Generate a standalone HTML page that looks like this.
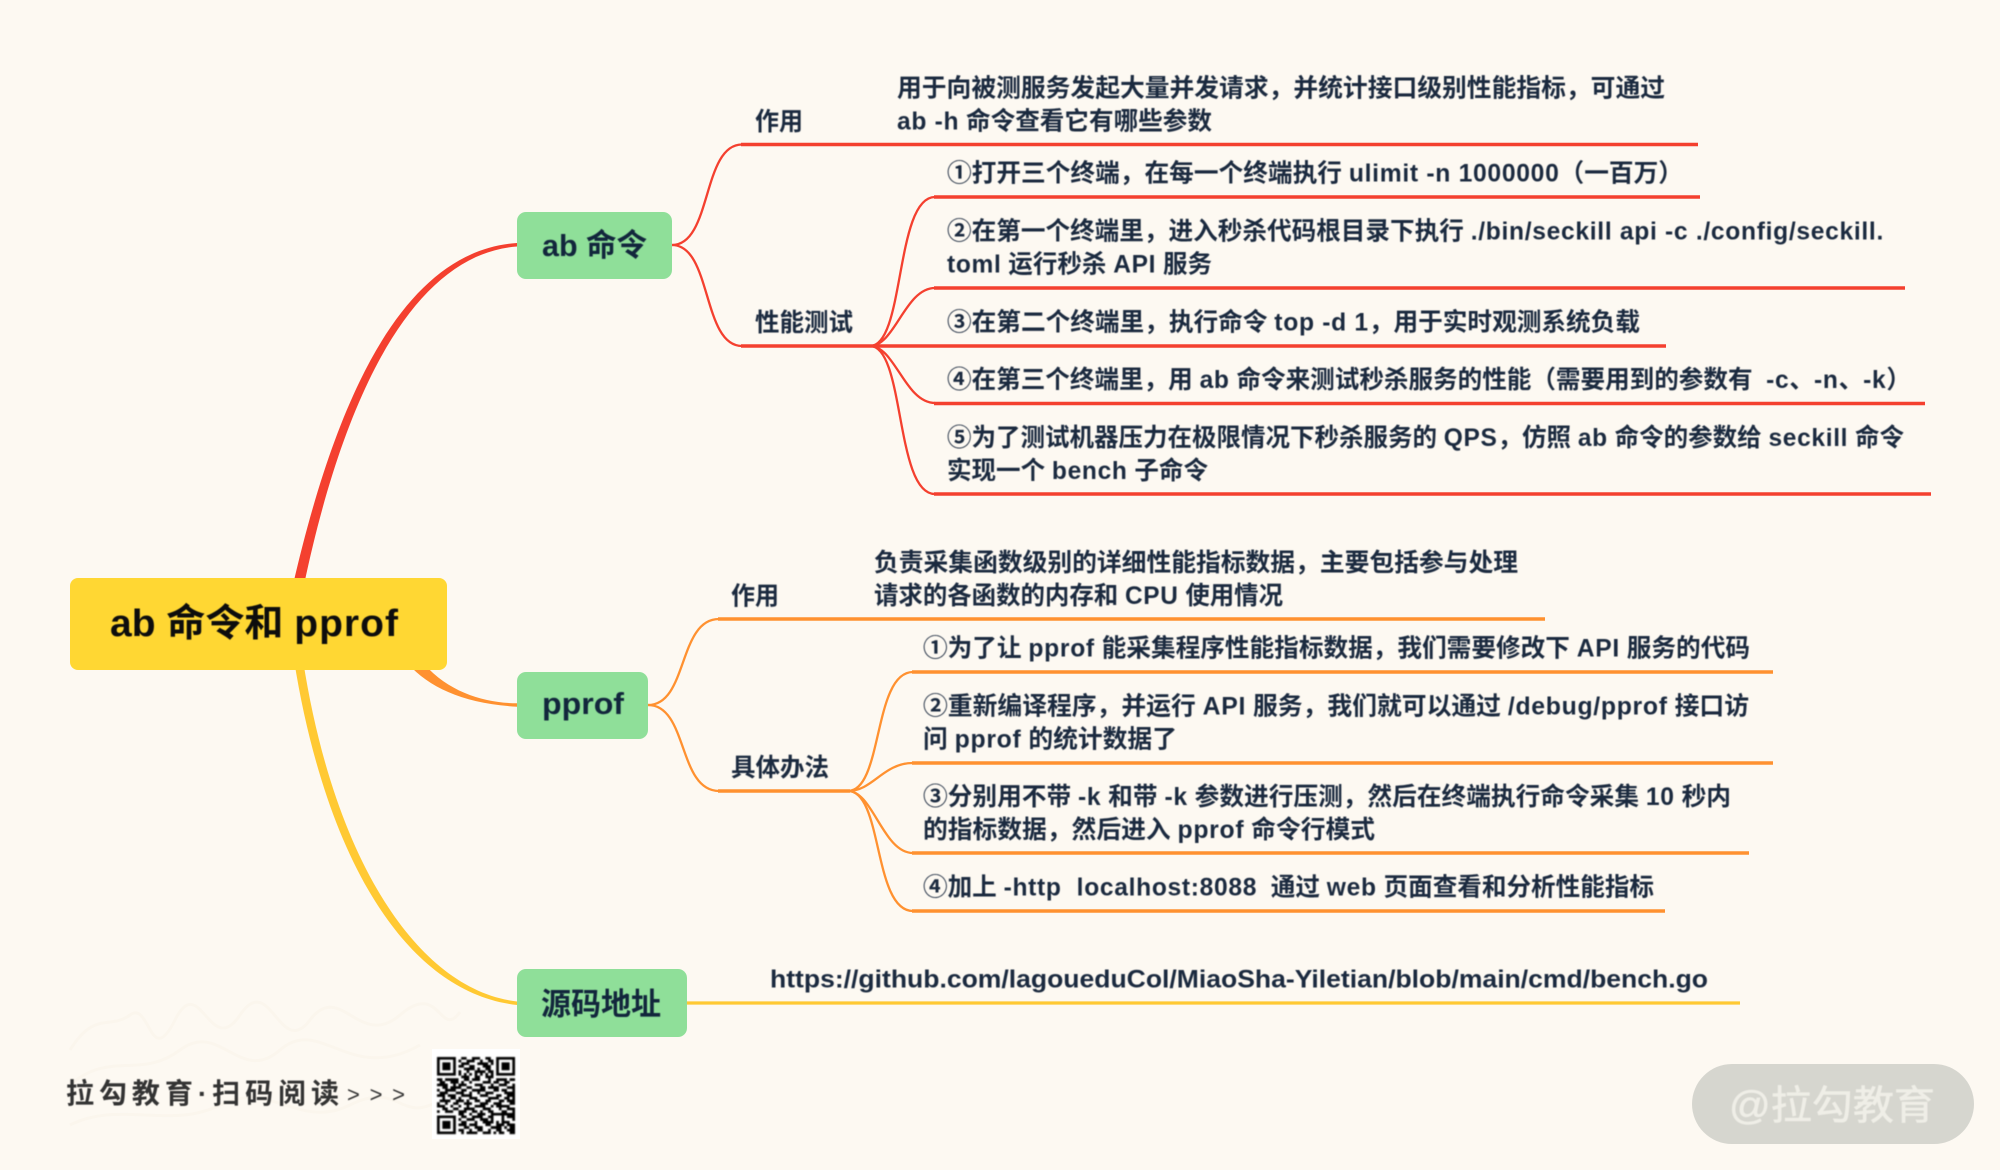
<!DOCTYPE html>
<html lang="zh">
<head>
<meta charset="utf-8">
<title>ab 命令和 pprof</title>
<style>
html,body{margin:0;padding:0;background:#fdf9f2;width:2000px;height:1170px;overflow:hidden}
svg{display:block;position:absolute;left:0;top:0}
text{font-family:"Liberation Sans","Noto Sans CJK SC",sans-serif;font-weight:700;fill:#1b2a3f;white-space:pre}
.t{font-size:25px}
.l{letter-spacing:.7px}
.n{font-size:31px;fill:#12263c}
.blur{filter:blur(.45px)}
.r{stroke:#f4402f;fill:none}
.o{stroke:#ff9130;fill:none}
.c{stroke-width:2.3;stroke-linecap:round}
.h{stroke-width:3.4;stroke-linecap:butt}
</style>
</head>
<body>
<svg width="2000" height="1170" viewBox="0 0 2000 1170" xmlns="http://www.w3.org/2000/svg">
<rect width="2000" height="1170" fill="#fdf9f2"/>

<!-- faint handwriting watermark -->
<g fill="none" stroke="#fbf6ed" stroke-width="3">
<path d="M70 1050C95 1010 110 1030 130 1015S150 1070 175 1020 210 1060 240 1015 280 1060 310 1020 360 1050 400 1015 440 1040 460 1012"/>
<path d="M70 1085C110 1050 140 1080 180 1050S240 1085 280 1050 350 1085 420 1045"/>
<path d="M70 1125C120 1100 170 1130 220 1105S300 1130 350 1105 400 1125 440 1100"/>
</g>

<!-- main branches -->
<path d="M517 243C410 250 340 380 293 585L304 585C345 390 415 254 517 246.500Z" fill="#f4402f"/>
<path d="M408 664C430 688 465 704 517 706.700L517 703.300C485 703 450 693 424 664Z" fill="#ff9130"/>
<path d="M294 660C326 860 407 993 517 1005L517 1001.500C418 990 334 860 303 660Z" fill="#ffc933"/>

<!-- ab 命令 branches -->
<g class="r c">
<path d="M672 245C712 245 702 144.500 742 144.500"/>
<path d="M672 245C712 245 702 346 742 346"/>
<path d="M870 346C905 346 895 197 935 197"/>
<path d="M870 346C895 346 905 288 935 288"/>
<path d="M870 346C895 346 905 403 935 403"/>
<path d="M870 346C905 346 895 494 935 494"/>
</g>
<g class="r h">
<path d="M741 144.500H1698"/>
<path d="M741 346H1666"/>
<path d="M934 197H1700"/>
<path d="M934 288H1905"/>
<path d="M934 403.500H1925"/>
<path d="M934 494H1931"/>
</g>

<!-- pprof branches -->
<g class="o c">
<path d="M648 705C688 705 678 619 719 619"/>
<path d="M648 705C688 705 678 791 719 791"/>
<path d="M848 791C883 791 873 672 913 672"/>
<path d="M848 791C873 791 883 763 913 763"/>
<path d="M848 791C873 791 883 853 913 853"/>
<path d="M848 791C883 791 873 911 913 911"/>
</g>
<g class="o h">
<path d="M718 619H1545"/>
<path d="M718 791H850"/>
<path d="M912 672H1773"/>
<path d="M912 763H1773"/>
<path d="M912 853H1749"/>
<path d="M912 911H1665"/>
</g>

<!-- source branch -->
<path d="M687 1003H1740" stroke="#ffc933" stroke-width="3.2" fill="none"/>

<!-- nodes -->
<rect x="70" y="578" width="377" height="92" rx="8" fill="#ffd733"/>
<rect x="517" y="212" width="155" height="67" rx="9" fill="#8fdf99"/>
<rect x="517" y="672" width="131" height="67" rx="9" fill="#8fdf99"/>
<rect x="517" y="969" width="170" height="68" rx="9" fill="#8fdf99"/>

<g class="blur">
<text x="110" y="636" textLength="289" lengthAdjust="spacingAndGlyphs" style="fill:#0d0d0d;font-size:38px">ab 命令和 <tspan letter-spacing="1">pprof</tspan></text>
<text class="n" x="542" y="256" textLength="105" lengthAdjust="spacingAndGlyphs">ab 命令</text>
<text class="n" x="542" y="714" textLength="82" lengthAdjust="spacingAndGlyphs">pprof</text>
<text class="n" x="541" y="1015" textLength="120" lengthAdjust="spacingAndGlyphs">源码地址</text>

<text class="t" x="755" y="130" textLength="48" lengthAdjust="spacingAndGlyphs">作用</text>
<text class="t" x="755" y="331" textLength="98" lengthAdjust="spacingAndGlyphs">性能测试</text>

<text class="t" x="897" y="96.500" textLength="768" lengthAdjust="spacingAndGlyphs">用于向被测服务发起大量并发请求，并统计接口级别性能指标，可通过</text>
<text class="t" x="897" y="129.500" textLength="315" lengthAdjust="spacingAndGlyphs"><tspan class="l">ab -h</tspan> 命令查看它有哪些参数</text>

<text class="t" x="947" y="181.500" textLength="736" lengthAdjust="spacingAndGlyphs">①打开三个终端，在每一个终端执行 <tspan class="l">ulimit -n 1000000</tspan>（一百万）</text>
<text class="t" x="947" y="239.500" textLength="937" lengthAdjust="spacingAndGlyphs">②在第一个终端里，进入秒杀代码根目录下执行 <tspan class="l">./bin/seckill api -c ./config/seckill.</tspan></text>
<text class="t" x="947" y="272.500" textLength="265" lengthAdjust="spacingAndGlyphs"><tspan class="l">toml</tspan> 运行秒杀 <tspan class="l">API</tspan> 服务</text>
<text class="t" x="947" y="330.500" textLength="693" lengthAdjust="spacingAndGlyphs">③在第二个终端里，执行命令 <tspan class="l">top -d 1</tspan>，用于实时观测系统负载</text>
<text class="t" x="947" y="388" textLength="964" lengthAdjust="spacingAndGlyphs">④在第三个终端里，用 <tspan class="l">ab</tspan> 命令来测试秒杀服务的性能（需要用到的参数有  <tspan class="l">-c</tspan>、<tspan class="l">-n</tspan>、<tspan class="l">-k</tspan>）</text>
<text class="t" x="947" y="446" textLength="957" lengthAdjust="spacingAndGlyphs">⑤为了测试机器压力在极限情况下秒杀服务的 <tspan class="l">QPS</tspan>，仿照 <tspan class="l">ab</tspan> 命令的参数给 <tspan class="l">seckill</tspan> 命令</text>
<text class="t" x="947" y="479" textLength="261" lengthAdjust="spacingAndGlyphs">实现一个 <tspan class="l">bench</tspan> 子命令</text>

<text class="t" x="731" y="604.500" textLength="48" lengthAdjust="spacingAndGlyphs">作用</text>
<text class="t" x="731" y="776" textLength="98" lengthAdjust="spacingAndGlyphs">具体办法</text>

<text class="t" x="874" y="571" textLength="644" lengthAdjust="spacingAndGlyphs">负责采集函数级别的详细性能指标数据，主要包括参与处理</text>
<text class="t" x="874" y="604" textLength="409" lengthAdjust="spacingAndGlyphs">请求的各函数的内存和 <tspan class="l">CPU</tspan> 使用情况</text>

<text class="t" x="923" y="656.500" textLength="827" lengthAdjust="spacingAndGlyphs">①为了让 <tspan class="l">pprof</tspan> 能采集程序性能指标数据，我们需要修改下 <tspan class="l">API</tspan> 服务的代码</text>
<text class="t" x="923" y="714.500" textLength="826" lengthAdjust="spacingAndGlyphs">②重新编译程序，并运行 <tspan class="l">API</tspan> 服务，我们就可以通过 <tspan class="l">/debug/pprof</tspan> 接口访</text>
<text class="t" x="923" y="747.500" textLength="254" lengthAdjust="spacingAndGlyphs">问 <tspan class="l">pprof</tspan> 的统计数据了</text>
<text class="t" x="923" y="805" textLength="808" lengthAdjust="spacingAndGlyphs">③分别用不带 <tspan class="l">-k</tspan> 和带 <tspan class="l">-k</tspan> 参数进行压测，然后在终端执行命令采集 <tspan class="l">10</tspan> 秒内</text>
<text class="t" x="923" y="838" textLength="452" lengthAdjust="spacingAndGlyphs">的指标数据，然后进入 <tspan class="l">pprof</tspan> 命令行模式</text>
<text class="t" x="923" y="895.500" textLength="731" lengthAdjust="spacingAndGlyphs">④加上 <tspan class="l">-http  localhost:8088</tspan>  通过 <tspan class="l">web</tspan> 页面查看和分析性能指标</text>

<text class="t" x="770" y="987.500" textLength="938" lengthAdjust="spacingAndGlyphs">https://github.com/lagoueduCol/MiaoSha-Yiletian/blob/main/cmd/bench.go</text>

<text x="66" y="1103" textLength="273" lengthAdjust="spacing" style="font-size:28px;fill:#333">拉勾教育·扫码阅读</text>
<text x="347" y="1102" textLength="58" lengthAdjust="spacing" style="font-size:22px;font-weight:400;fill:#333">&gt; &gt; &gt;</text>
</g>

<!-- QR code -->
<rect x="432" y="1049" width="88" height="90" fill="#fff"/>
<g transform="translate(437,1057) scale(2.69,2.66)" style="filter:blur(.25px)">
<path fill="none" stroke="#000" stroke-width="1" d="
M0 .5h7M9 .5h2M13 .5h3M18 .5h2M22 .5h7
M0 1.500h1M6 1.500h1M8 1.500h1M11 1.500h3M16 1.500h1M19 1.500h2M22 1.500h1M28 1.500h1
M0 2.500h1M2 2.500h3M6 2.500h1M9 2.500h3M15 2.500h4M20 2.500h1M22 2.500h1M24 2.500h3M28 2.500h1
M0 3.500h1M2 3.500h3M6 3.500h1M8 3.500h2M12 3.500h2M17 3.500h3M22 3.500h1M24 3.500h3M28 3.500h1
M0 4.500h1M2 4.500h3M6 4.500h1M10 4.500h4M15 4.500h1M18 4.500h2M22 4.500h1M24 4.500h3M28 4.500h1
M0 5.500h1M6 5.500h1M8 5.500h1M11 5.500h1M14 5.500h4M19 5.500h2M22 5.500h1M28 5.500h1
M0 6.500h7M8 6.500h1M10 6.500h1M12 6.500h1M14 6.500h1M16 6.500h1M18 6.500h1M20 6.500h1M22 6.500h7
M9 7.500h3M14 7.500h2M18 7.500h3
M0 8.500h2M3 8.500h5M10 8.500h2M13 8.500h3M19 8.500h1M22 8.500h4M27 8.500h2
M1 9.500h2M5 9.500h3M9 9.500h1M12 9.500h1M17 9.500h3M21 9.500h2M25 9.500h2
M0 10.500h4M6 10.500h1M8 10.500h3M14 10.500h3M20 10.500h1M23 10.500h3M28 10.500h1
M2 11.500h2M5 11.500h4M11 11.500h2M16 11.500h2M19 11.500h4M26 11.500h3
M0 12.500h1M3 12.500h4M9 12.500h2M13 12.500h5M21 12.500h2M24 12.500h2M28 12.500h1
M1 13.500h3M7 13.500h3M12 13.500h1M15 13.500h1M18 13.500h3M25 13.500h4
M0 14.500h3M4 14.500h3M9 14.500h4M16 14.500h3M22 14.500h2M26 14.500h3
M2 15.500h1M5 15.500h2M8 15.500h1M12 15.500h3M19 15.500h4M25 15.500h2M28 15.500h1
M1 16.500h4M7 16.500h3M11 16.500h1M14 16.500h2M18 16.500h2M23 16.500h2M26 16.500h3
M0 17.500h1M3 17.500h1M6 17.500h2M10 17.500h3M16 17.500h3M21 17.500h3M27 17.500h2
M0 18.500h3M5 18.500h1M8 18.500h1M11 18.500h1M14 18.500h4M20 18.500h1M22 18.500h5
M2 19.500h2M6 19.500h2M10 19.500h4M17 19.500h3M23 19.500h1M26 19.500h3
M0 20.500h1M3 20.500h3M8 20.500h3M13 20.500h2M16 20.500h1M19 20.500h2M24 20.500h2M28 20.500h1
M8 21.500h2M12 21.500h1M15 21.500h3M20 21.500h9
M0 22.500h7M9 22.500h2M13 22.500h4M19 22.500h2M24 22.500h1M26 22.500h3
M0 23.500h1M6 23.500h1M8 23.500h1M11 23.500h3M16 23.500h3M20 23.500h1M24 23.500h1M28 23.500h1
M0 24.500h1M2 24.500h3M6 24.500h1M9 24.500h2M14 24.500h1M17 24.500h4M22 24.500h1M24 24.500h3
M0 25.500h1M2 25.500h3M6 25.500h1M8 25.500h3M12 25.500h3M18 25.500h2M22 25.500h3M26 25.500h3
M0 26.500h1M2 26.500h3M6 26.500h1M10 26.500h2M14 26.500h3M20 26.500h4M25 26.500h1M27 26.500h2
M0 27.500h1M6 27.500h1M8 27.500h2M12 27.500h1M15 27.500h2M19 27.500h1M22 27.500h2M26 27.500h3
M0 28.500h7M9 28.500h1M11 28.500h4M17 28.500h3M21 28.500h1M23 28.500h2M27 28.500h2"/>
</g>

<!-- watermark pill -->
<rect x="1692" y="1064" width="282" height="80" rx="40" fill="#d6d6cf"/>
<text x="1729" y="1119" textLength="206" lengthAdjust="spacingAndGlyphs" class="blur" stroke="#efeee7" stroke-width=".6" style="font-size:40px;font-weight:400;fill:#efeee7">@拉勾教育</text>
</svg>
</body>
</html>
